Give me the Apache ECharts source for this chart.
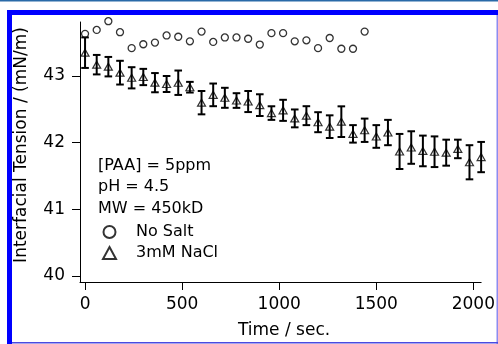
<!DOCTYPE html>
<html>
<head>
<meta charset="utf-8">
<script src="https://cdn.jsdelivr.net/npm/echarts@6/dist/echarts.min.js"></script>
<style>
html,body{margin:0;padding:0;background:#fff;}
#chart{width:498px;height:344px;}
</style>
</head>
<body>
<div id="chart"></div>
<script>
// ---- data ----
const noSaltTime = [0,60,120,180,240,300,360,420,480,540,600,660,720,780,840,900,960,1020,1080,1140,1200,1260,1320,1380,1440];
const noSaltTension = [43.632,43.691,43.822,43.657,43.418,43.476,43.501,43.608,43.589,43.520,43.666,43.511,43.578,43.578,43.559,43.472,43.643,43.643,43.520,43.535,43.418,43.570,43.409,43.409,43.666];

const naclTime = [0,60,120,180,240,300,360,420,480,540,600,660,720,780,840,900,960,1020,1080,1140,1200,1260,1320,1380,1440,1500,1560,1620,1680,1740,1800,1860,1920,1980,2040];
const naclTension = [43.350,43.170,43.140,43.050,42.973,42.985,42.900,42.880,42.899,42.832,42.600,42.717,42.673,42.632,42.617,42.563,42.444,42.485,42.364,42.405,42.307,42.240,42.315,42.132,42.186,42.093,42.152,41.868,41.927,41.876,41.864,41.850,41.906,41.706,41.784];
const naclError = [0.229,0.146,0.146,0.178,0.159,0.122,0.144,0.120,0.183,0.080,0.175,0.170,0.150,0.110,0.158,0.163,0.102,0.158,0.134,0.142,0.150,0.170,0.230,0.131,0.175,0.170,0.190,0.263,0.244,0.230,0.230,0.195,0.139,0.256,0.227];

const xTicks = [0,500,1000,1500,2000];
const yTicks = [40,41,42,43];
const seriesNames = ['No Salt','3mM NaCl'];
const annotations = ['[PAA] = 5ppm','pH = 4.5','MW = 450kD'];
const xTitle = 'Time / sec.';
const yTitle = 'Interfacial Tension / (mN/m)';

// ---- build ----
const FONT = 'DejaVu Sans';
const chart = echarts.init(document.getElementById('chart'), null, {renderer:'canvas'});

const errData = naclTime.map((t,i)=>[t, naclTension[i], naclError[i]]);

const option = {
  backgroundColor:'#fff',
  animation:false,
  textStyle:{fontFamily:FONT},
  grid:{left:80, top:22, width:401.3, height:266.7, containLabel:false},
  xAxis:{
    type:'value', min:-26, max:2040,
    name:xTitle, nameLocation:'middle', nameGap:40,
    nameTextStyle:{fontFamily:FONT, fontSize:17, color:'#000', padding:[0,0,0,7]},
    axisLine:{show:true, onZero:false, lineStyle:{color:'#000', width:1}},
    axisTick:{show:true, inside:false, length:8, lineStyle:{color:'#000', width:1}, customValues:xTicks},
    axisLabel:{fontFamily:FONT, fontSize:17, color:'#000', margin:14, customValues:xTicks, formatter:v=>String(v)},
    splitLine:{show:false}
  },
  yAxis:{
    type:'value', min:39.91, max:43.81,
    name:yTitle, nameLocation:'middle', nameGap:50, nameRotate:90,
    nameTextStyle:{fontFamily:FONT, fontSize:17, color:'#000', padding:[0,0,0,14]},
    axisLine:{show:true, onZero:false, lineStyle:{color:'#000', width:1}},
    axisTick:{show:true, inside:false, length:8, lineStyle:{color:'#000', width:1}, customValues:yTicks},
    axisLabel:{fontFamily:FONT, fontSize:17, color:'#000', margin:15, customValues:yTicks, formatter:v=>String(v)},
    splitLine:{show:false}
  },
  legend:{
    orient:'vertical', left:102, top:224, padding:0, itemGap:5,
    itemWidth:13, itemHeight:12,
    data:seriesNames,
    textStyle:{fontFamily:FONT, fontSize:16, color:'#000', lineHeight:16, padding:[0,0,0,15]}
  },
  graphic:[
    {type:'rect', shape:{x:0,y:0,width:498,height:1.5}, style:{fill:'#2a6aa8'}, silent:true},
    {type:'rect', shape:{x:7,y:10,width:491,height:5}, style:{fill:'#0000ff'}, silent:true},
    {type:'rect', shape:{x:7,y:10,width:5,height:334}, style:{fill:'#0000ff'}, silent:true},
    {type:'rect', shape:{x:496.5,y:15,width:1.5,height:329}, style:{fill:'#8c8cf0'}, silent:true},
    {type:'rect', shape:{x:12,y:342,width:486,height:1.5}, style:{fill:'#4a4ae0'}, silent:true},
    ...annotations.map((s,i)=>({type:'text', left:98, top:[158,179,201][i], style:{text:s, font:'16px "DejaVu Sans"', fill:'#000'}, silent:true}))
  ],
  series:[
    {
      name:seriesNames[0], type:'scatter', clip:false,
      symbol:'circle', symbolSize:7,
      itemStyle:{color:'rgba(255,255,255,0)', borderColor:'#000', borderWidth:1.3},
      data:noSaltTime.map((t,i)=>[t, noSaltTension[i]]),
      z:3
    },
    {
      name:'err', type:'custom', clip:false,
      renderItem:function(params, api){
        const x = api.value(0), y = api.value(1), e = api.value(2);
        const top = api.coord([x, y+e]);
        const bot = api.coord([x, y-e]);
        const hw = 3.8;
        const st = {stroke:'#000', lineWidth:2};
        return {type:'group', children:[
          {type:'line', shape:{x1:top[0], y1:top[1], x2:bot[0], y2:bot[1]}, style:st},
          {type:'line', shape:{x1:top[0]-hw, y1:top[1], x2:top[0]+hw, y2:top[1]}, style:st},
          {type:'line', shape:{x1:bot[0]-hw, y1:bot[1], x2:bot[0]+hw, y2:bot[1]}, style:st}
        ]};
      },
      encode:{x:0, y:1},
      data:errData,
      z:2
    },
    {
      name:seriesNames[1], type:'scatter', clip:false,
      symbol:'triangle', symbolSize:[8,7],
      itemStyle:{color:'rgba(255,255,255,0)', borderColor:'#000', borderWidth:1.2},
      data:naclTime.map((t,i)=>[t, naclTension[i]]),
      z:3
    }
  ]
};
chart.setOption(option);
</script>
</body>
</html>
